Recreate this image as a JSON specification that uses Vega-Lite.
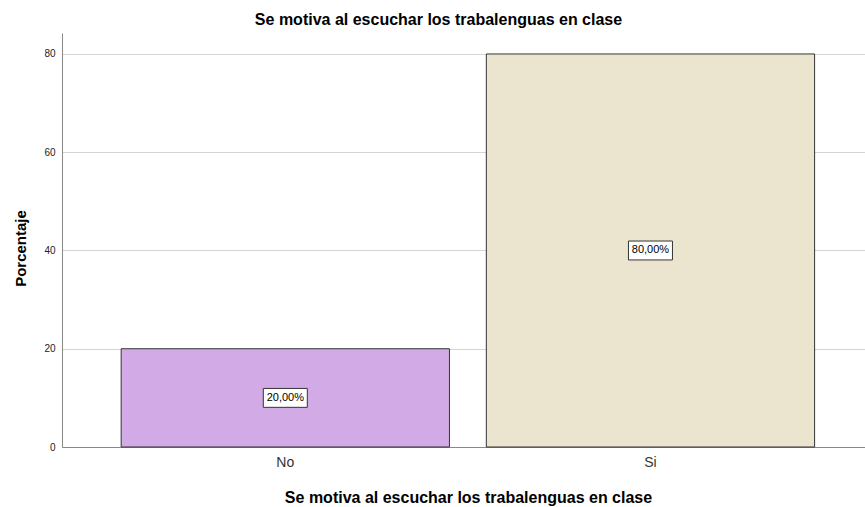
{
  "$schema": "https://vega.github.io/schema/vega-lite/v6.json",
  "width": 803,
  "height": 414,
  "autosize": {"type": "none"},
  "padding": {"left": 62, "top": 33, "right": 0, "bottom": 60},
  "background": "white",
  "config": {"view": {"stroke": null}, "font": "Liberation Sans"},
  "title": {"text": "Se motiva al escuchar los trabalenguas en clase", "fontSize": 16, "fontWeight": "bold", "font": "Liberation Sans", "color": "#000", "anchor": "middle", "dx": -25, "offset": 5},
  "data": {"values": [
    {"cat": "No", "pct": 20, "label": "20,00%"},
    {"cat": "Si", "pct": 80, "label": "80,00%"}
  ]},
  "encoding": {
    "x": {"field": "cat", "type": "nominal", "sort": null,
      "scale": {"paddingInner": 0.101, "paddingOuter": 0.15, "align": 0.54},
      "axis": {"title": "Se motiva al escuchar los trabalenguas en clase", "titleFontSize": 16, "titleFontWeight": "bold", "titleColor": "#000", "titlePadding": 20, "titleX": 406, "labelAngle": 0, "labelFontSize": 14, "labelColor": "#333", "labelPadding": 8, "ticks": false, "domainColor": "#888", "grid": false}
    }
  },
  "layer": [
    {
      "mark": {"type": "bar", "stroke": "#333333", "strokeWidth": 1},
      "encoding": {
        "y": {"field": "pct", "type": "quantitative",
          "scale": {"domain": [0, 84.27], "nice": false},
          "axis": {"title": "Porcentaje", "titleFontSize": 15, "titleFontWeight": "bold", "titleColor": "#000", "titlePadding": 15, "titleY": 215, "values": [0, 20, 40, 60, 80], "labelFontSize": 10, "labelColor": "#222", "labelPadding": 7, "ticks": false, "domainColor": "#888", "gridColor": "#d4d4d4", "gridWidth": 1}
        },
        "color": {"field": "cat", "type": "nominal", "scale": {"domain": ["No", "Si"], "range": ["#d2abe6", "#ebe5d0"]}, "legend": null}
      }
    },
    {
      "transform": [{"calculate": "datum.pct / 2", "as": "mid"}],
      "mark": {"type": "point", "filled": true, "fill": "white", "stroke": "#333", "strokeWidth": 1, "opacity": 1, "shape": "M-1,-0.43H1V0.43H-1Z", "size": 1936},
      "encoding": {
        "y": {"field": "mid", "type": "quantitative"}
      }
    },
    {
      "transform": [{"calculate": "datum.pct / 2", "as": "mid"}],
      "mark": {"type": "text", "fontSize": 11, "color": "#000", "font": "Liberation Sans"},
      "encoding": {
        "y": {"field": "mid", "type": "quantitative"},
        "text": {"field": "label"}
      }
    }
  ]
}
